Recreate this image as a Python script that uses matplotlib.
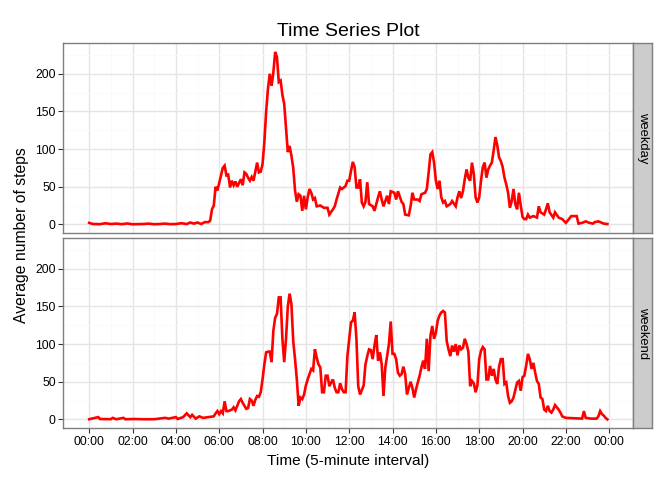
import matplotlib
matplotlib.use("Agg")
import matplotlib.pyplot as plt

plt.rcParams['font.family'] = ['Liberation Sans', 'DejaVu Sans']

# --- data (time as "HH:MM", average steps) ---
weekday_times = ["00:00","00:10","00:30","00:45","01:00","01:15","01:30","01:45","02:00","02:30","02:45","03:00","03:15","03:30","03:45",
    "04:00","04:15","04:30","04:40","04:50","05:00","05:10","05:20","05:30","05:35","05:40","05:45","05:50","05:55",
    "06:00","06:05","06:10","06:15","06:20","06:25","06:30","06:35","06:40","06:45","06:50","07:00","07:05","07:10","07:15",
    "07:20","07:25","07:30","07:35","07:45","07:50","07:55","08:00","08:05","08:10","08:15","08:20","08:25","08:30","08:35",
    "08:40","08:45","08:50","08:55","09:00","09:05","09:10","09:15","09:20","09:25","09:30","09:35","09:40","09:45","09:50",
    "09:55","10:00","10:05","10:10","10:15","10:20","10:25","10:30","10:40","10:50","11:00","11:05","11:15","11:20","11:25",
    "11:35","11:40","11:50","11:55","12:00","12:05","12:10","12:15","12:20","12:25","12:30","12:35","12:40","12:45","12:50",
    "12:55","13:05","13:10","13:20","13:25","13:30","13:35","13:45","13:50","13:55","14:05","14:10","14:15","14:25","14:30",
    "14:35","14:45","14:50","14:55","15:00","15:10","15:15","15:20","15:30","15:35","15:40","15:45","15:50","15:55","16:00",
    "16:05","16:10","16:15","16:20","16:25","16:30","16:40","16:45","16:55","17:00","17:05","17:10","17:15","17:20","17:25",
    "17:30","17:35","17:40","17:45","17:50","17:55","18:00","18:05","18:10","18:15","18:20","18:25","18:30","18:35","18:40",
    "18:45","18:50","18:55","19:00","19:05","19:10","19:15","19:20","19:25","19:30","19:35","19:40","19:45","19:50","19:55",
    "20:00","20:05","20:10","20:15","20:20","20:30","20:40","20:45","20:50","21:00","21:05","21:10","21:15","21:25","21:30",
    "21:40","21:50","22:00","22:05","22:15","22:30","22:35","22:45","22:50","22:55","23:05","23:15","23:20","23:30","23:40",
    "23:45","23:55"]
weekday_steps = [2,0.5,0.3,1.5,0.5,1,0.3,1.2,0.2,0.5,1,0.2,0.5,1,0.3,
    0.5,1.5,0.5,2.5,1,2.5,0.5,3,3,5,20,25,50,45,
    55,65,75,78,65,66,49,58,52,57,50,60,52,69,67,
    62,58,63,58,82,69,70,80,109,150,180,200,184,202,229,
    222,189,191,172,160,127,96,104,91,75,45,30,40,38,18,
    38,20,36,47,42,33,35,24,25,22,22,13,20,24,33,
    49,47,51,58,58,71,83,76,49,49,60,29,24,30,56,
    27,24,18,36,44,33,24,38,27,44,42,33,44,30,27,
    13,12,24,42,33,33,31,40,42,47,69,93,96,82,58,
    47,58,36,29,31,24,27,31,24,36,44,35,44,60,73,
    62,58,82,67,36,29,36,58,76,82,62,73,78,82,98,
    116,105,89,84,76,62,53,42,22,31,47,27,20,42,25,
    10,7,7,13,9,11,9,24,16,13,20,28,16,9,16,
    9,7,2,5,11,11,1,2,3,4,2,1,3,4,2,
    1,0.5]

weekend_times = ["00:00","00:25","00:30","01:00","01:05","01:15","01:35","01:40","02:05","02:30","03:00","03:30","03:40",
    "04:00","04:05","04:20","04:30","04:40","04:45","04:55","05:05","05:15","05:30","05:45","05:50","05:55",
    "06:00","06:05","06:10","06:15","06:20","06:25","06:35","06:40","06:45","06:50","06:55","07:00","07:05","07:15",
    "07:20","07:25","07:30","07:35","07:40","07:45","07:50","07:55","08:00","08:05","08:10","08:15","08:20","08:25",
    "08:30","08:35","08:40","08:45","08:50","08:55","09:00","09:05","09:10","09:15","09:20","09:25","09:30","09:35",
    "09:40","09:45","09:50","09:55","10:00","10:05","10:10","10:15","10:20","10:25","10:30","10:35","10:40","10:45",
    "10:50","10:55","11:00","11:05","11:10","11:15","11:20","11:25","11:30","11:35","11:40","11:45","11:50","11:55",
    "12:00","12:05","12:10","12:15","12:20","12:25","12:30","12:40","12:45","12:50","12:55","13:00","13:05","13:10",
    "13:15","13:20","13:25","13:30","13:35","13:40","13:45","13:50","13:55","14:00","14:05","14:10","14:15","14:20",
    "14:25","14:30","14:35","14:40","14:50","14:55","15:00","15:05","15:15","15:20","15:25","15:30","15:35","15:40",
    "15:45","15:50","15:55","16:00","16:05","16:10","16:15","16:20","16:25","16:30","16:35","16:40","16:45","16:50",
    "16:55","17:00","17:05","17:10","17:15","17:20","17:25","17:30","17:35","17:40","17:45","17:50","17:55","18:00",
    "18:05","18:10","18:15","18:20","18:25","18:30","18:35","18:40","18:45","18:50","18:55","19:00","19:05","19:10",
    "19:15","19:20","19:25","19:30","19:35","19:45","19:50","19:55","20:00","20:05","20:10","20:15","20:20","20:25",
    "20:30","20:35","20:40","20:45","20:50","20:55","21:00","21:05","21:10","21:15","21:20","21:25","21:30","21:35",
    "21:40","21:45","21:50","22:00","22:45","22:50","22:55","23:10","23:25","23:30","23:35","23:40","23:45","23:50","23:55"]
weekend_steps = [0.2,3,0.5,0.3,2,0.2,2,0.2,0.5,0.2,0.2,2,1,
    3,0.5,3,8,3,6,1,4,2,3,4,8,11,
    7,11,8,24,11,11,13,16,12,18,24,27,22,14,
    15,27,25,18,26,31,30,36,53,73,89,90,90,76,
    118,135,140,162,162,107,76,107,150,167,153,104,80,53,
    18,29,27,33,45,53,60,67,65,93,82,73,69,36,
    36,58,58,44,49,53,42,36,36,48,40,36,36,84,
    107,129,131,142,107,44,33,45,73,84,93,92,80,98,
    112,78,89,73,31,69,84,100,130,87,87,80,62,58,
    60,70,60,33,50,42,29,40,58,69,78,67,107,64,
    111,124,107,115,131,138,142,144,142,104,93,84,98,90,
    100,85,98,93,95,107,100,90,44,51,48,36,45,80,
    91,96,93,53,53,71,58,67,53,47,70,80,80,47,
    49,31,22,24,29,49,51,38,56,58,71,87,80,67,
    75,62,51,47,29,27,13,11,18,11,9,13,19,16,
    13,9,4,2,1,11,2,1,1,4,11,7,5,2,0]

panel_labels = ["weekday", "weekend"]
tick_labels = ["00:00","02:00","04:00","06:00","08:00","10:00","12:00",
               "14:00","16:00","18:00","20:00","22:00","00:00"]


def to_min(t):
    h, m = t.split(":")
    return int(h) * 60 + int(m)


series = [([to_min(t) for t in weekday_times], weekday_steps),
          ([to_min(t) for t in weekend_times], weekend_steps)]

ymax = max(max(weekday_steps), max(weekend_steps))
ylo, yhi = -0.05 * ymax, 1.05 * ymax
xmin, xmax = 0, 1435
xr = xmax - xmin

fig = plt.figure(figsize=(6.72, 4.8), dpi=100)
W, H = 672, 480


def fr(x0, y0, x1, y1):
    return [x0 / W, 1 - y1 / H, (x1 - x0) / W, (y1 - y0) / H]


panel_boxes = [fr(63.3, 43.3, 633.3, 233.0), fr(63.3, 238.3, 633.3, 428.0)]
strip_boxes = [fr(633.3, 43.3, 652.3, 233.0), fr(633.3, 238.3, 652.3, 428.0)]

tick_color = "#333333"
for i, ((x, y), lab) in enumerate(zip(series, panel_labels)):
    ax = fig.add_axes(panel_boxes[i])
    ax.set_facecolor("white")
    ax.set_xlim(xmin - 0.05 * xr, xmax + 0.05 * xr)
    ax.set_ylim(ylo, yhi)
    ax.set_xticks(range(0, 1441, 120))
    ax.set_xticks(range(60, 1441, 120), minor=True)
    ax.set_yticks([0, 50, 100, 150, 200])
    ax.set_yticks([25, 75, 125, 175, 225], minor=True)
    ax.grid(True, which="major", color="#e5e5e5", linewidth=1.0)
    ax.grid(True, which="minor", color="#fafafa", linewidth=0.6)
    ax.set_axisbelow(True)
    ax.plot(x, y, color="#ff0000", linewidth=1.9, solid_joinstyle="miter", zorder=3)
    for s in ax.spines.values():
        s.set_color("#7f7f7f")
        s.set_linewidth(1.0)
    ax.tick_params(axis="both", which="major", length=3.5, width=0.8, color=tick_color,
                   labelsize=8.8, labelcolor="black", pad=2)
    ax.tick_params(axis="both", which="minor", length=0)
    if i == 0:
        ax.set_xticklabels([])
        ax.tick_params(axis="x", which="major", length=0)
    else:
        ax.set_xticklabels(tick_labels)

    sax = fig.add_axes(strip_boxes[i])
    sax.set_facecolor("#cccccc")
    sax.set_xticks([])
    sax.set_yticks([])
    for s in sax.spines.values():
        s.set_color("#7f7f7f")
        s.set_linewidth(1.0)
    sax.text(0.5, 0.5, lab, rotation=-90, ha="center", va="center",
             fontsize=9.4, color="black", transform=sax.transAxes)

fig.text(348 / W, 1 - 32 / H, "Time Series Plot", ha="center", va="center", fontsize=14)
fig.text(348 / W, 1 - 461 / H, "Time (5-minute interval)", ha="center", va="center", fontsize=11.1)
fig.text(22 / W, 1 - 235.5 / H, "Average number of steps", ha="center", va="center",
         rotation=90, fontsize=11.3)

fig.savefig("out.png", dpi=100)
